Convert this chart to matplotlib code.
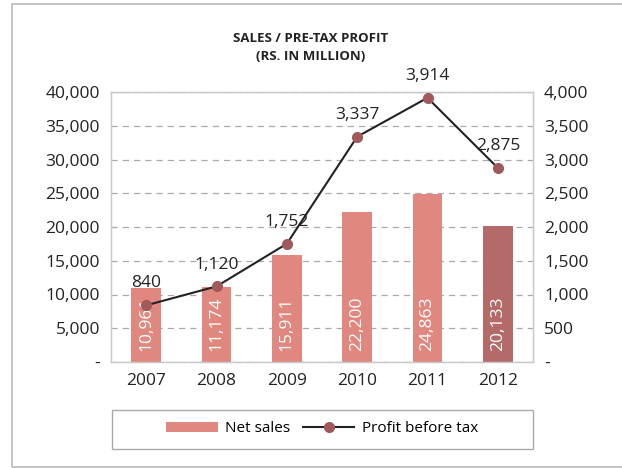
import numpy as np
import matplotlib.pyplot as plt
from matplotlib.patches import Rectangle
from matplotlib.ticker import FuncFormatter

years = ["2007", "2008", "2009", "2010", "2011", "2012"]
net_sales = [10961, 11174, 15911, 22200, 24863, 20133]
profit_before_tax = [840, 1120, 1752, 3337, 3914, 2875]

bar_colors = ["#E08880"] * 5 + ["#B56A6A"]

plt.rcParams["font.family"] = ["Open Sans", "DejaVu Sans"]
FS = 12.5

fig = plt.figure(figsize=(6.22, 4.68), dpi=100)
ax = fig.add_axes([111 / 622, 1 - 362 / 468, 422 / 622, 270 / 468])
ax2 = ax.twinx()

x = np.arange(len(years))


def thousands(v, _):
    return "-" if v == 0 else f"{v:,.0f}"


# bars: net sales on the left axis
ax.bar(x, net_sales, width=0.42, color=bar_colors, zorder=2, label="Net sales")
for xi, v in zip(x, net_sales):
    ax.text(xi, 1600, f"{v:,}", rotation=90, ha="center", va="bottom",
            color="white", fontsize=FS, zorder=3)

ax.set_ylim(0, 40000)
ax.set_xlim(-0.5, 5.5)
ax.set_yticks(np.arange(0, 40001, 5000))
ax.yaxis.set_major_formatter(FuncFormatter(thousands))
ax.set_xticks(x)
ax.set_xticklabels(years)
ax.grid(axis="y", linestyle=(0, (5, 4)), color="#AAAAAA", linewidth=0.9, zorder=0)
ax.set_axisbelow(True)

# line: profit before tax on the right axis
ax2.plot(x, profit_before_tax, color="#222222", linewidth=1.5, marker="o",
         markersize=7, markerfacecolor="#A05A5A", markeredgecolor="#A05A5A",
         zorder=4, label="Profit before tax")
for xi, v in zip(x, profit_before_tax):
    ax2.annotate(f"{v:,}", (xi, v), xytext=(0, 10), textcoords="offset points",
                 ha="center", va="bottom", fontsize=FS, color="#222222")
ax2.set_ylim(0, 4000)
ax2.set_yticks(np.arange(0, 4001, 500))
ax2.yaxis.set_major_formatter(FuncFormatter(thousands))

for a in (ax, ax2):
    for s in a.spines.values():
        s.set_color("#C8C8C8")
        s.set_linewidth(0.9)
    a.tick_params(length=0, labelsize=FS, colors="#222222", pad=8)
ax.tick_params(axis="x", pad=8)

fig.text(0.5, 1 - 38 / 468, "SALES / PRE-TAX PROFIT", ha="center", va="center",
         fontsize=9.5, fontweight="bold", color="#222222")
fig.text(0.5, 1 - 57 / 468, "(RS. IN MILLION)", ha="center", va="center",
         fontsize=9.5, fontweight="bold", color="#222222")

# legend, centred inside its own full-width frame
h1, l1 = ax.get_legend_handles_labels()
h2, l2 = ax2.get_legend_handles_labels()
fig.legend(h1 + h2, l1 + l2, loc="center",
           bbox_to_anchor=(322 / 622, 1 - 429 / 468), ncol=2, frameon=False,
           fontsize=11, handlelength=3.4, handleheight=0.6,
           columnspacing=0.8, handletextpad=0.5)
fig.patches.append(Rectangle((112 / 622, 1 - 449 / 468), 421 / 622, 39 / 468,
                             transform=fig.transFigure, fill=False,
                             edgecolor="#AAAAAA", linewidth=1.0))

# outer frame of the chart
fig.patches.append(Rectangle((12 / 622, 1 - 467 / 468), 1.0, 463 / 468,
                             transform=fig.transFigure, fill=False,
                             edgecolor="#BBBBBB", linewidth=1.2))

fig.savefig("out.png", dpi=100)
